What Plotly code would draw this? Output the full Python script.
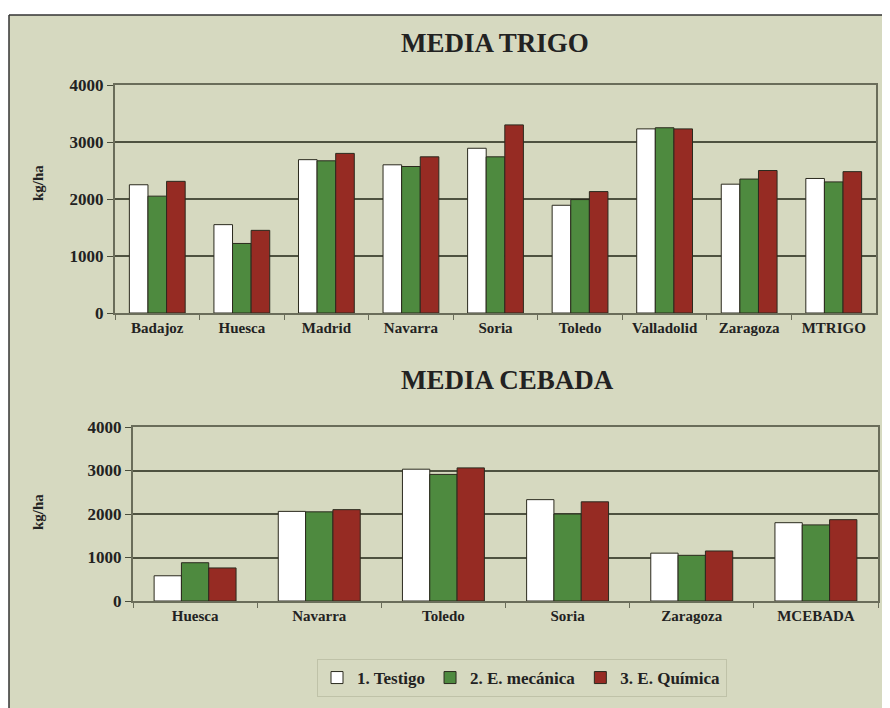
import plotly.graph_objects as go

# page body has an 8px margin; the figure fills the rest of the 890x708 window
OFF = 8
W, H = 890 - OFF, 708 - OFF

series_names = ["1. Testigo", "2. E. mecánica", "3. E. Química"]
series_colors = ["#ffffff", "#4e8a3f", "#962b23"]

trigo_categories = ["Badajoz", "Huesca", "Madrid", "Navarra", "Soria", "Toledo",
                    "Valladolid", "Zaragoza", "MTRIGO"]
trigo_testigo = [2250, 1550, 2690, 2600, 2890, 1890, 3230, 2260, 2360]
trigo_mecanica = [2050, 1220, 2670, 2570, 2740, 1990, 3250, 2350, 2300]
trigo_quimica = [2310, 1450, 2800, 2740, 3300, 2130, 3230, 2500, 2480]

cebada_categories = ["Huesca", "Navarra", "Toledo", "Soria", "Zaragoza", "MCEBADA"]
cebada_testigo = [580, 2060, 3030, 2330, 1100, 1800]
cebada_mecanica = [880, 2050, 2910, 2000, 1050, 1750]
cebada_quimica = [760, 2100, 3060, 2280, 1150, 1870]

y_ticks = [0, 1000, 2000, 3000, 4000]

BG = "#d6d9c0"
GRID = "#4e5240"
FONT = "Liberation Serif"
TXT = "#222222"


def px_x(x):
    return (x - OFF) / W


def px_y(y):
    return (H - (y - OFF)) / H


fig = go.Figure()

trigo_series = [trigo_testigo, trigo_mecanica, trigo_quimica]
cebada_series = [cebada_testigo, cebada_mecanica, cebada_quimica]

for i, (name, vals) in enumerate(zip(series_names, trigo_series)):
    fig.add_trace(go.Bar(
        x=trigo_categories, y=vals, name=name,
        marker=dict(color=series_colors[i], line=dict(color="#2b2a1e", width=1)),
        xaxis="x", yaxis="y", legendgroup=name, showlegend=True,
    ))
for i, (name, vals) in enumerate(zip(series_names, cebada_series)):
    fig.add_trace(go.Bar(
        x=cebada_categories, y=vals, name=name,
        marker=dict(color=series_colors[i], line=dict(color="#2b2a1e", width=1)),
        xaxis="x2", yaxis="y2", legendgroup=name, showlegend=False,
    ))

xcommon = dict(
    type="category", showline=True, linecolor="#6a6d5a", linewidth=2, mirror=True,
    ticks="outside", ticklen=5, tickcolor="#6a6d5a", tickwidth=1,
    tickson="boundaries", showgrid=False, fixedrange=True,
    tickfont=dict(family=FONT, size=15, color=TXT, weight="bold"),
)
ycommon = dict(
    range=[0, 4000], tickvals=y_ticks, showline=True, linecolor="#6a6d5a",
    linewidth=2, mirror=True, ticks="outside", ticklen=6, tickcolor="#4a4d3c",
    showgrid=True, gridcolor=GRID, gridwidth=2, zeroline=False, fixedrange=True,
    tickfont=dict(family=FONT, size=17, color=TXT, weight="bold"),
)

fig.update_layout(
    width=W, height=H,
    margin=dict(l=0, r=0, t=0, b=0, autoexpand=False),
    paper_bgcolor=BG, plot_bgcolor=BG,
    barmode="group",
    bargap=0.34, bargroupgap=0,
    xaxis=dict(xcommon, domain=[px_x(115), px_x(876)], anchor="y"),
    yaxis=dict(ycommon, domain=[px_y(313), px_y(85)], anchor="x"),
    xaxis2=dict(xcommon, domain=[px_x(133), px_x(878)], anchor="y2"),
    yaxis2=dict(ycommon, domain=[px_y(601), px_y(427)], anchor="x2"),
    legend=dict(
        orientation="h", x=px_x(522), xanchor="center", y=px_y(678), yanchor="middle",
        bgcolor=BG, bordercolor="#bfc2a8", borderwidth=1,
        font=dict(family=FONT, size=17, color=TXT, weight="bold"),
        itemwidth=30, tracegroupgap=0,
    ),
    showlegend=True,
    font=dict(family=FONT),
)

# white margins outside the framed panel, and the frame lines
fig.add_shape(type="rect", xref="paper", yref="paper",
              x0=px_x(0), x1=px_x(900), y0=px_y(15), y1=px_y(-10),
              fillcolor="#ffffff", line=dict(width=0), layer="below")
fig.add_shape(type="rect", xref="paper", yref="paper",
              x0=px_x(-10), x1=px_x(9), y0=px_y(720), y1=px_y(-10),
              fillcolor="#ffffff", line=dict(width=0), layer="below")
fig.add_shape(type="line", xref="paper", yref="paper",
              x0=px_x(9), x1=px_x(900), y0=px_y(15), y1=px_y(15),
              line=dict(color="#333333", width=1.5))
fig.add_shape(type="line", xref="paper", yref="paper",
              x0=px_x(9), x1=px_x(9), y0=px_y(15), y1=px_y(720),
              line=dict(color="#333333", width=1.5))

ann_common = dict(xref="paper", yref="paper", showarrow=False,
                  xanchor="center", yanchor="middle")
fig.add_annotation(text="MEDIA TRIGO", x=px_x(495), y=px_y(43), **ann_common,
                   font=dict(family=FONT, size=27, color=TXT, weight="bold"))
fig.add_annotation(text="MEDIA CEBADA", x=px_x(507), y=px_y(380), **ann_common,
                   font=dict(family=FONT, size=27, color=TXT, weight="bold"))
fig.add_annotation(text="kg/ha", x=px_x(38), y=px_y(183), textangle=-90, **ann_common,
                   font=dict(family=FONT, size=15, color=TXT, weight="bold"))
fig.add_annotation(text="kg/ha", x=px_x(38), y=px_y(512), textangle=-90, **ann_common,
                   font=dict(family=FONT, size=15, color=TXT, weight="bold"))

fig.write_html("out.html")
